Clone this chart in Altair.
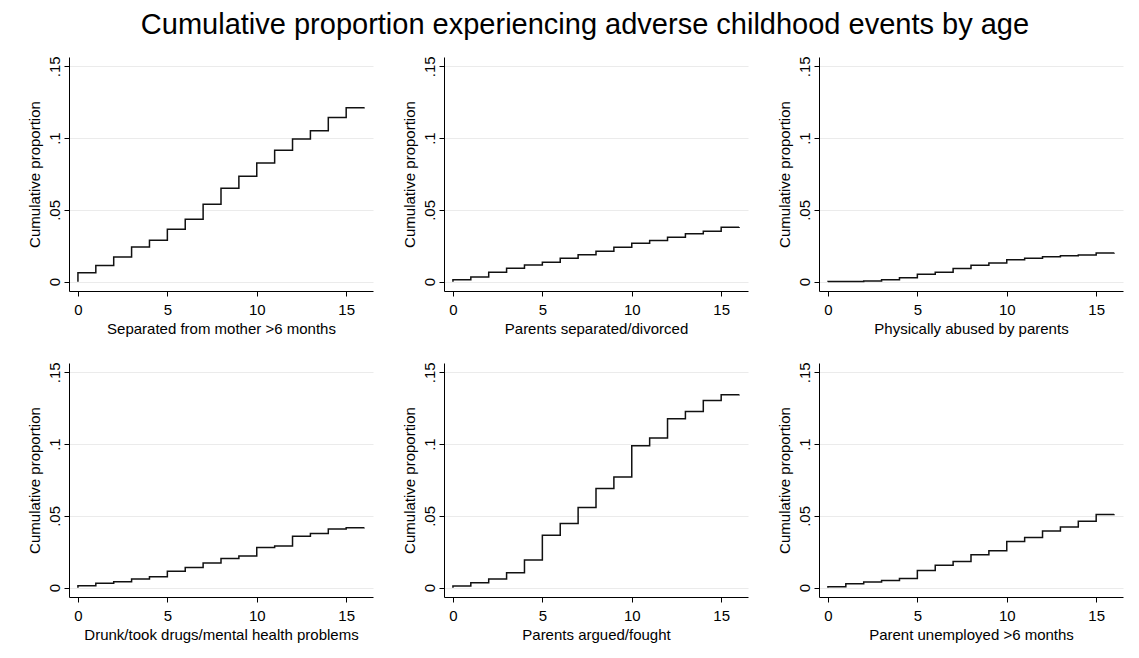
import altair as alt
import pandas as pd

FONT = "Liberation Sans"

ages = list(range(16))
end_age = 16

titles = [
    "Separated from mother >6 months",
    "Parents separated/divorced",
    "Physically abused by parents",
    "Drunk/took drugs/mental health problems",
    "Parents argued/fought",
    "Parent unemployed >6 months",
]

sep_mother = [0.0063, 0.0112, 0.0171, 0.0242, 0.0289, 0.0365, 0.0435, 0.0540,
              0.0650, 0.0735, 0.0827, 0.0916, 0.0993, 0.1052, 0.1143, 0.1211]
sep_divorced = [0.0014, 0.0033, 0.0065, 0.0093, 0.0116, 0.0135, 0.0163, 0.0188,
                0.0212, 0.0240, 0.0267, 0.0286, 0.0309, 0.0333, 0.0351, 0.0379]
phys_abuse = [0.0002, 0.0002, 0.0005, 0.0014, 0.0028, 0.0051, 0.0065, 0.0091,
              0.0114, 0.0130, 0.0153, 0.0163, 0.0174, 0.0181, 0.0186, 0.0200]
drunk_drugs = [0.0014, 0.0030, 0.0041, 0.0060, 0.0076, 0.0115, 0.0140, 0.0172,
               0.0204, 0.0220, 0.0280, 0.0291, 0.0358, 0.0378, 0.0408, 0.0417]
argued = [0.0012, 0.0035, 0.0060, 0.0104, 0.0192, 0.0366, 0.0447, 0.0558,
          0.0690, 0.0771, 0.0988, 0.1042, 0.1176, 0.1227, 0.1303, 0.1343]
unemployed = [0.0007, 0.0028, 0.0039, 0.0050, 0.0064, 0.0119, 0.0156, 0.0183,
              0.0229, 0.0257, 0.0321, 0.0349, 0.0394, 0.0422, 0.0463, 0.0509]
end_values = [0.1215, 0.0380, 0.0202, 0.0419, 0.1345, 0.0512]

series = [sep_mother, sep_divorced, phys_abuse, drunk_drugs, argued, unemployed]

y_ticks = [0, 0.05, 0.1, 0.15]
x_ticks = [0, 5, 10, 15]

Y_LABEL_EXPR = "datum.value == 0 ? '0' : replace(format(datum.value, '.2~f'), '0.', '.')"


def panel(title, values, end):
    xs = [0] + ages + [end_age]
    ys = [0] + values + [end]
    df = pd.DataFrame({"age": xs, "prop": ys, "order": list(range(len(xs)))})
    return (
        alt.Chart(df)
        .mark_line(interpolate="step-after", color="#111111", strokeWidth=1.5)
        .encode(
            x=alt.X(
                "age:Q",
                scale=alt.Scale(domain=[-0.5, 16.5], nice=False, zero=False),
                axis=alt.Axis(values=x_ticks, title=title, grid=False, format="d",
                              labelPadding=6, titlePadding=4),
            ),
            y=alt.Y(
                "prop:Q",
                scale=alt.Scale(domain=[-0.0065, 0.1565], nice=False, zero=False),
                axis=alt.Axis(values=y_ticks, title="Cumulative proportion", grid=True,
                              labelAngle=270, labelAlign="center", labelBaseline="bottom",
                              labelExpr=Y_LABEL_EXPR, labelPadding=2, titlePadding=5),
            ),
            order="order:Q",
        )
        .properties(width=304, height=234)
    )


panels = [panel(t, v, e) for t, v, e in zip(titles, series, end_values)]

row1 = alt.hconcat(*panels[:3], spacing=29)
row2 = alt.hconcat(*panels[3:], spacing=29)

chart = (
    alt.vconcat(row1, row2, spacing=25)
    .properties(
        title=alt.TitleParams(
            text="Cumulative proportion experiencing adverse childhood events by age",
            fontSize=29, font=FONT, fontWeight="normal", anchor="middle",
            color="black", offset=16, dx=10,
        ),
        padding={"left": 19, "top": 2, "right": 5, "bottom": 5},
        background="white",
    )
    .configure_view(strokeWidth=0)
    .configure_axis(
        labelFont=FONT, titleFont=FONT, labelFontSize=15, titleFontSize=15,
        titleFontWeight="normal", labelColor="black", titleColor="black",
        domainColor="black", tickColor="black", tickSize=5, domainWidth=1,
        gridColor="#ebebeb", gridWidth=1,
    )
)

chart.save("out.html", embed_options={"renderer": "svg", "actions": False})
